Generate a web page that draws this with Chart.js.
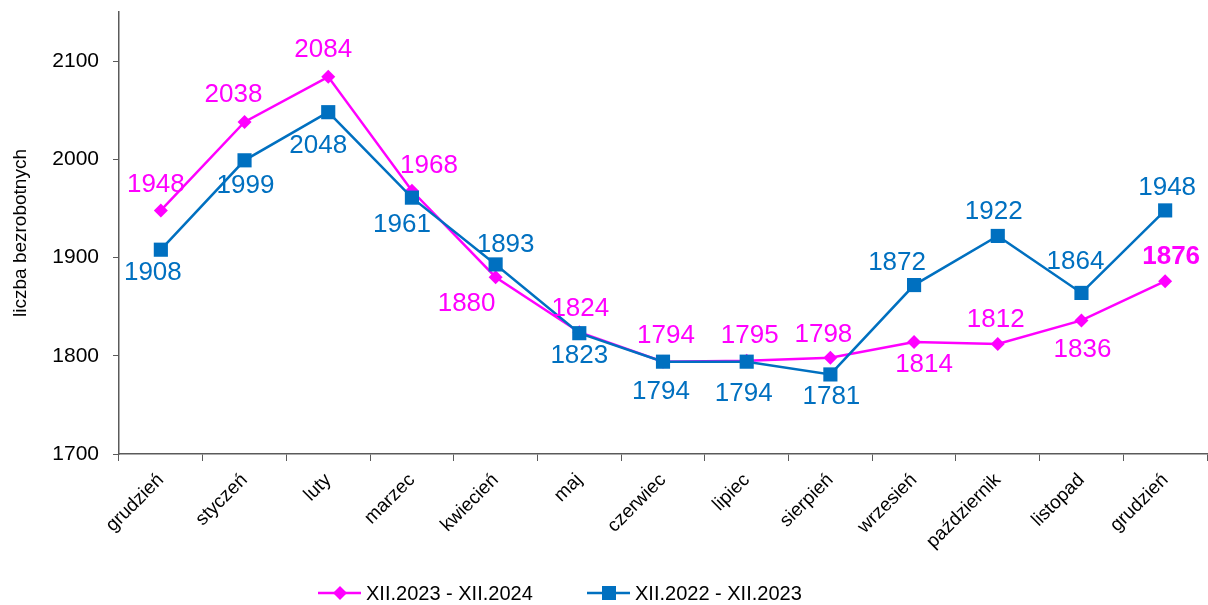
<!DOCTYPE html>
<html>
<head>
<meta charset="utf-8">
<script src="https://cdn.jsdelivr.net/npm/chart.js@4/dist/chart.umd.min.js"></script>
<style>
html,body{margin:0;padding:0;background:#fff;}
#wrap{width:1208px;height:605px;position:relative;}
</style>
</head>
<body>
<div id="wrap"><canvas id="c" width="1208" height="605"></canvas></div>
<script>
const categories = ['grudzień','styczeń','luty','marzec','kwiecień','maj','czerwiec','lipiec','sierpień','wrzesień','październik','listopad','grudzień'];
const series2024 = [1948, 2038, 2084, 1968, 1880, 1824, 1794, 1795, 1798, 1814, 1812, 1836, 1876];
const series2023 = [1908, 1999, 2048, 1961, 1893, 1823, 1794, 1794, 1781, 1872, 1922, 1864, 1948];
const seriesNames = ['XII.2023 - XII.2024', 'XII.2022 - XII.2023'];
const yTicks = [1700, 1800, 1900, 2000, 2100];
const yAxisTitle = 'liczba bezrobotnych';

const FONT = 'Arial, "Liberation Sans", sans-serif';
const MAGENTA = '#FF00FF';
const BLUE = '#0070C0';
const AXIS = '#5a5a5a';

// label placement (offsets in px from the point), style only
const labelOffsets = [
  [[-5,-26],[-11,-27],[-5,-27],[17,-25],[-29,27],[1,-23],[3,-26],[3,-25],[-7,-23],[10,23],[-2,-24],[1,29],[6,-24]],
  [[-8,23],[1,26],[-10,34],[-10,27],[10,-20],[0,23],[-2,30],[-3,32],[1,22],[-17,-22],[-4,-24],[-6,-31],[2,-23]]
];

const dataLabels = {
  id: 'dataLabels',
  afterDatasetsDraw(chart) {
    const ctx = chart.ctx;
    ctx.save();
    ctx.textAlign = 'center';
    ctx.textBaseline = 'middle';
    chart.data.datasets.forEach((ds, di) => {
      const meta = chart.getDatasetMeta(di);
      meta.data.forEach((pt, i) => {
        const off = labelOffsets[di][i];
        const bold = (di === 0 && i === ds.data.length - 1);
        ctx.font = (bold ? 'bold ' : '') + '26px ' + FONT;
        ctx.fillStyle = ds.borderColor;
        ctx.fillText(String(ds.data[i]), pt.x + off[0], pt.y + off[1]);
      });
    });
    ctx.restore();
  }
};

const customLegend = {
  id: 'customLegend',
  afterDraw(chart) {
    const ctx = chart.ctx;
    const items = [
      {x: 318, ds: chart.data.datasets[0], style: 'diamond'},
      {x: 587, ds: chart.data.datasets[1], style: 'square'}
    ];
    const y = 593;
    ctx.save();
    items.forEach(it => {
      ctx.strokeStyle = it.ds.borderColor;
      ctx.lineWidth = 2.5;
      ctx.beginPath();
      ctx.moveTo(it.x, y);
      ctx.lineTo(it.x + 43, y);
      ctx.stroke();
      ctx.fillStyle = it.ds.borderColor;
      const cx = it.x + 22;
      ctx.beginPath();
      if (it.style === 'diamond') {
        ctx.moveTo(cx, y - 7); ctx.lineTo(cx + 7, y); ctx.lineTo(cx, y + 7); ctx.lineTo(cx - 7, y); ctx.closePath();
      } else {
        ctx.rect(cx - 7, y - 7, 14, 14);
      }
      ctx.fill();
      ctx.font = '20px ' + FONT;
      ctx.fillStyle = '#000';
      ctx.textAlign = 'left';
      ctx.textBaseline = 'middle';
      ctx.fillText(it.ds.label, it.x + 48, y + 1);
    });
    ctx.restore();
  }
};

new Chart(document.getElementById('c'), {
  type: 'line',
  data: {
    labels: categories,
    datasets: [
      {
        label: seriesNames[0],
        data: series2024,
        borderColor: MAGENTA,
        backgroundColor: MAGENTA,
        borderWidth: 2.5,
        pointStyle: 'rectRot',
        pointRadius: 7,
        pointBorderWidth: 0,
        pointBackgroundColor: MAGENTA,
        tension: 0,
        order: 2
      },
      {
        label: seriesNames[1],
        data: series2023,
        borderColor: BLUE,
        backgroundColor: BLUE,
        borderWidth: 2.5,
        pointStyle: 'rect',
        pointRadius: 10,
        pointBorderWidth: 0,
        pointBackgroundColor: BLUE,
        tension: 0,
        order: 1
      }
    ]
  },
  options: {
    responsive: false,
    animation: false,
    devicePixelRatio: 1,
    layout: { autoPadding: false, padding: { left: 0, right: 1, top: 12, bottom: 0 } },
    plugins: {
      legend: { display: false },
      tooltip: { enabled: false }
    },
    scales: {
      x: {
        offset: true,
        grid: { offset: true, drawOnChartArea: false, drawTicks: true, tickLength: 7, color: AXIS, lineWidth: 1 },
        border: { color: AXIS, width: 1.5 },
        ticks: {
          autoSkip: false, maxRotation: 45, minRotation: 45,
          font: { size: 19, family: FONT }, color: '#000', padding: 8
        },
        afterFit(s) { s.height = 151; s.paddingLeft = 0; s.paddingRight = 0; }
      },
      y: {
        min: yTicks[0],
        max: 2150,
        afterBuildTicks(s) { s.ticks = yTicks.map(v => ({ value: v })); },
        grid: { drawOnChartArea: false, drawTicks: true, tickLength: 6, color: AXIS, lineWidth: 1 },
        border: { color: AXIS, width: 1.5 },
        ticks: { font: { size: 21, family: FONT }, color: '#000', padding: 14, callback: v => String(v) },
        title: {
          display: true, text: yAxisTitle, color: '#000',
          font: { size: 19, family: FONT }, padding: { top: 9, bottom: 0 }
        },
        afterFit(s) { s.width = 119; s.paddingTop = 0; s.paddingBottom = 0; }
      }
    }
  },
  plugins: [dataLabels, customLegend]
});
</script>
</body>
</html>
